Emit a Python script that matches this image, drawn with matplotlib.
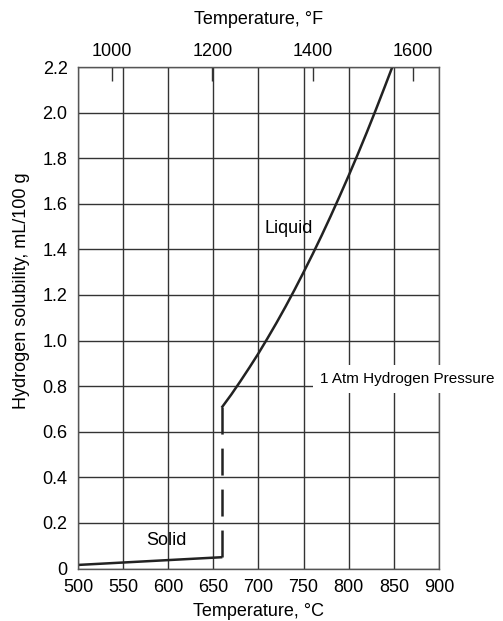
import numpy as np
import matplotlib
matplotlib.use("Agg")
import matplotlib.pyplot as plt

plt.rcParams['font.family'] = ['Liberation Sans', 'DejaVu Sans']
plt.rcParams['lines.scale_dashes'] = False

# Hydrogen solubility in aluminium at 1 atm H2
solid_temp = [500, 660]
solid_sol = [0.016, 0.05]

melt_temp = [660, 660]
melt_sol = [0.05, 0.71]

liquid_temp = [660, 670, 680, 690, 700, 710, 720, 730, 740, 750,
               760, 770, 780, 790, 800, 810, 820, 830, 840, 848.3]
liquid_sol = [0.71, 0.764, 0.822, 0.882, 0.944, 1.010, 1.078, 1.149, 1.223, 1.300,
              1.379, 1.461, 1.546, 1.634, 1.724, 1.817, 1.913, 2.012, 2.114, 2.2]

x_ticks = [500, 550, 600, 650, 700, 750, 800, 850, 900]
y_ticks = [0, 0.2, 0.4, 0.6, 0.8, 1.0, 1.2, 1.4, 1.6, 1.8, 2.0, 2.2]
y_labels = ['0', '0.2', '0.4', '0.6', '0.8', '1.0', '1.2', '1.4', '1.6', '1.8', '2.0', '2.2']
f_ticks = [1000, 1200, 1400, 1600]

ink = '#222222'
grid_c = '#333333'

fig = plt.figure(figsize=(5.03, 6.21), dpi=100)
ax = fig.add_axes([0.155, 0.0844, 0.7177, 0.8077])

ax.set_xlim(500, 900)
ax.set_ylim(0, 2.2)
ax.set_xticks(x_ticks)
ax.set_yticks(y_ticks)
ax.set_yticklabels(y_labels)
ax.tick_params(axis='both', length=0, labelsize=13, colors='black', pad=7.5)
ax.grid(True, color=grid_c, linewidth=1.0)
ax.set_axisbelow(True)
for s in ax.spines.values():
    s.set_color('#555555')
    s.set_linewidth(1.0)

ax.plot(solid_temp, solid_sol, color=ink, lw=1.8, solid_capstyle='butt')
ax.plot(melt_temp, melt_sol, color=ink, lw=1.8, linestyle=(0, (19.4, 10.1)),
        dash_capstyle='butt')
ax.plot(liquid_temp, liquid_sol, color=ink, lw=1.8, solid_joinstyle='round')

ax.text(598, 0.122, 'Solid', fontsize=13, ha='center', va='center')
ax.text(733, 1.49, 'Liquid', fontsize=13, ha='center', va='center')
ax.text(768, 0.83, '1 Atm Hydrogen Pressure', fontsize=11, ha='left', va='center',
        clip_on=False, zorder=5,
        bbox=dict(boxstyle='square,pad=0.45', facecolor='white', edgecolor='none'))

ax.set_xlabel('Temperature, °C', fontsize=13, labelpad=5)
ax.set_ylabel('Hydrogen solubility, mL/100 g', fontsize=13)
ax.yaxis.set_label_coords(-0.132, 0.555)

# Fahrenheit scale along the top
top = ax.secondary_xaxis('top', functions=(lambda c: c * 9 / 5 + 32,
                                           lambda f: (f - 32) * 5 / 9))
top.set_xticks(f_ticks)
top.tick_params(direction='in', length=10, width=1.0, color=grid_c,
                labelsize=13, pad=5)
top.spines['top'].set_visible(False)
top.set_xlabel('Temperature, °F', fontsize=13, labelpad=14)

fig.savefig('out.png', dpi=100)
